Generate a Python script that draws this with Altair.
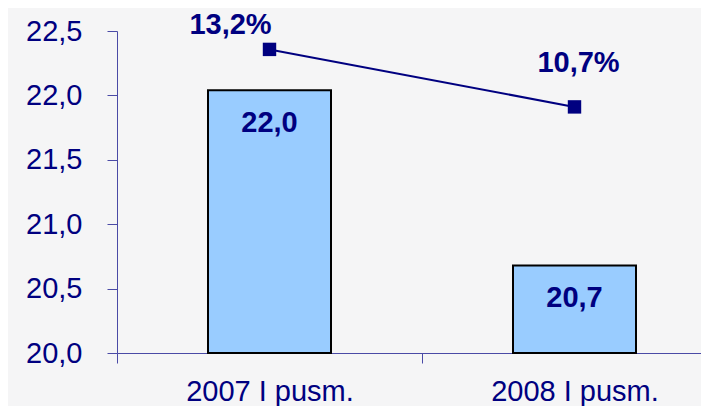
import altair as alt
import pandas as pd

categories = ["2007 I pusm.", "2008 I pusm."]
values = [22.04, 20.68]
value_labels = ["22,0", "20,7"]
growth = [13.2, 10.7]
growth_labels = ["13,2%", "10,7%"]
y_ticks = [20.0, 20.5, 21.0, 21.5, 22.0, 22.5]

df = pd.DataFrame({
    "cat": categories,
    "pos": [i + 0.5 for i in range(len(categories))],
    "value": values,
    "vlabel": value_labels,
    "growth": growth,
    "glabel": growth_labels,
})

NAVY = "#000080"
AXIS = "#4a4aa6"
FONT = "Liberation Sans"
FS = 29
BG = "#f5f5f6"

xscale = alt.Scale(domain=[0, 584 / 305], nice=False, zero=False, padding=0)
yscale = alt.Scale(domain=[20, 22.5], nice=False, zero=False, padding=0)
y2scale = alt.Scale(domain=[0, 14], nice=False, zero=False, padding=0)

label_expr = " : ".join(
    f"datum.value < {i + 1} ? '{c}'" for i, c in enumerate(categories[:-1])
) + f" : '{categories[-1]}'"

base = alt.Chart(df)

bars = base.mark_bar(size=123, color="#99ccff", stroke="black", strokeWidth=2).encode(
    x=alt.X("pos:Q", scale=xscale,
            axis=alt.Axis(values=[0, 1], labels=False, tickSize=10, tickColor=AXIS,
                          domainColor=AXIS, grid=False, title=None, orient="bottom")),
    y=alt.Y("value:Q", scale=yscale,
            axis=alt.Axis(values=y_ticks, tickSize=10, tickColor=AXIS, domainColor=AXIS,
                          grid=False, title=None, labelFont=FONT, labelFontSize=FS,
                          labelColor=NAVY, labelPadding=25,
                          labelExpr="replace(format(datum.value, '.1f'), '.', ',')")),
    y2=alt.datum(20),
)

bar_text = base.mark_text(font=FONT, fontSize=FS, fontWeight="bold", color=NAVY,
                          baseline="middle", dy=33).encode(
    x=alt.X("pos:Q", scale=xscale, axis=None),
    y=alt.Y("value:Q", scale=yscale, axis=None),
    text="vlabel:N",
)

line = base.mark_line(color=NAVY, strokeWidth=2).encode(
    x=alt.X("pos:Q", scale=xscale,
            axis=alt.Axis(values=[0.5, 1.5], labelExpr=label_expr, ticks=False, domain=False,
                          grid=False, title=None, labelFont=FONT, labelFontSize=FS,
                          labelColor=NAVY, labelPadding=24, orient="bottom")),
    y=alt.Y("growth:Q", scale=y2scale, axis=None),
)

points = base.mark_point(shape="square", filled=True, size=180, color=NAVY, opacity=1).encode(
    x=alt.X("pos:Q", scale=xscale, axis=None),
    y=alt.Y("growth:Q", scale=y2scale, axis=None),
)

offsets = [(-39, -24), (4, -44)]
pct_layers = []
for lab, (dx, dy) in zip(growth_labels, offsets):
    pct_layers.append(
        base.transform_filter(alt.datum.glabel == lab).mark_text(
            font=FONT, fontSize=FS, fontWeight="bold", color=NAVY,
            baseline="middle", dx=dx, dy=dy).encode(
            x=alt.X("pos:Q", scale=xscale, axis=None),
            y=alt.Y("growth:Q", scale=y2scale, axis=None),
            text="glabel:N",
        )
    )

chart = alt.layer(bars, bar_text, line, points, *pct_layers).resolve_scale(
    y="independent"
).resolve_axis(x="independent", y="independent").properties(
    width=584, height=322,
    autosize=alt.AutoSizeParams(type="none"),
    padding={"left": 109, "top": 23, "right": 0, "bottom": 53},
    background=BG,
).configure_view(stroke=None)

chart.save("out.html", embed_options={"renderer": "svg", "actions": False})
